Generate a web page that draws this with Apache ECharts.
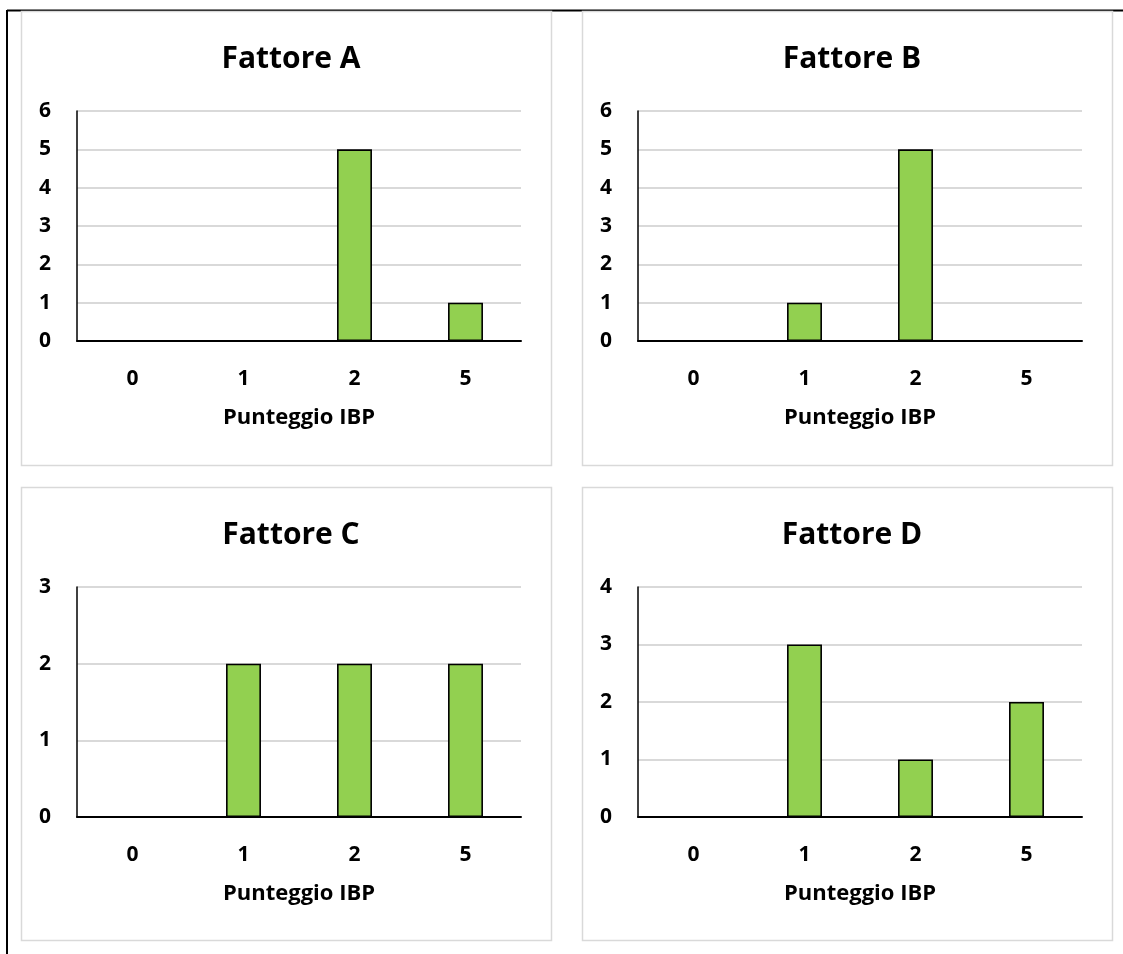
<!DOCTYPE html>
<html>
<head>
<meta charset="utf-8">
<script src="https://cdn.jsdelivr.net/npm/echarts@6/dist/echarts.min.js"></script>
<style>
  html, body { margin: 0; padding: 0; background: #ffffff; }
  #chart { width: 1123px; height: 954px; }
</style>
</head>
<body>
<div id="chart"></div>
<script>
// Categories (IBP score) and the count for each factor
const categories = ['0', '1', '2', '5'];
const fattoreA = [0, 0, 5, 1];
const fattoreB = [0, 1, 5, 0];
const fattoreC = [0, 2, 2, 2];
const fattoreD = [0, 3, 1, 2];

const titles = ['Fattore A', 'Fattore B', 'Fattore C', 'Fattore D'];
const yMax = [6, 6, 3, 4];
const xAxisName = 'Punteggio IBP';

const FONT = '"Open Sans", Lato, sans-serif';
const BAR_COLOR = '#92D050';

// Panel geometry
const panels = [
  { x: 21, y: 11, w: 530, h: 454 },
  { x: 582, y: 11, w: 530, h: 454 },
  { x: 21, y: 487, w: 530, h: 453 },
  { x: 582, y: 487, w: 530, h: 453 }
];
const grids = [
  { left: 77, top: 111, width: 444, height: 230 },
  { left: 638, top: 111, width: 444, height: 230 },
  { left: 77, top: 587, width: 444, height: 230 },
  { left: 638, top: 587, width: 444, height: 230 }
];
const seriesData = [fattoreA, fattoreB, fattoreC, fattoreD];

const chart = echarts.init(document.getElementById('chart'), null, { renderer: 'canvas' });

const graphics = [];
// Outer frame lines (top and left)
graphics.push({ type: 'line', shape: { x1: 7, y1: 10.5, x2: 1123, y2: 10.5 }, style: { stroke: '#000', lineWidth: 2 }, silent: true });
graphics.push({ type: 'line', shape: { x1: 7, y1: 10, x2: 7, y2: 954 }, style: { stroke: '#000', lineWidth: 2 }, silent: true });
// Light gray border around each chart panel
panels.forEach(p => {
  graphics.push({
    type: 'rect',
    shape: { x: p.x + 0.5, y: p.y + 0.5, width: p.w, height: p.h },
    style: { fill: 'transparent', stroke: '#d9d9d9', lineWidth: 1.5 },
    silent: true
  });
});

const option = {
  animation: false,
  backgroundColor: '#ffffff',
  title: titles.map((t, i) => ({
    text: t,
    left: panels[i].x + panels[i].w / 2,
    top: panels[i].y + 28,
    textAlign: 'center',
    textStyle: { fontFamily: FONT, fontWeight: 'bold', fontSize: 30, color: '#000' }
  })),
  graphic: graphics,
  grid: grids.map(g => Object.assign({ containLabel: false }, g)),
  xAxis: grids.map((g, i) => ({
    type: 'category',
    gridIndex: i,
    data: categories,
    name: xAxisName,
    nameLocation: 'middle',
    nameGap: 66,
    nameTextStyle: { fontFamily: FONT, fontWeight: 'bold', fontSize: 22, color: '#000' },
    axisLine: { show: true, lineStyle: { color: '#000', width: 2 } },
    axisTick: { show: false },
    axisLabel: { fontFamily: FONT, fontWeight: 'bold', fontSize: 21, color: '#000', margin: 28 },
    splitLine: { show: false },
    z: 3
  })),
  yAxis: grids.map((g, i) => ({
    type: 'value',
    gridIndex: i,
    min: 0,
    max: yMax[i],
    interval: 1,
    axisLine: { show: true, lineStyle: { color: '#000', width: 1.5 } },
    axisTick: { show: false },
    axisLabel: { fontFamily: FONT, fontWeight: 'bold', fontSize: 21, color: '#000', margin: 26 },
    splitLine: { show: true, lineStyle: { color: '#d9d9d9', width: 2 } }
  })),
  series: seriesData.map((d, i) => ({
    type: 'bar',
    xAxisIndex: i,
    yAxisIndex: i,
    barWidth: '31.5%',
    data: d.map(v => ({
      value: v,
      itemStyle: { color: BAR_COLOR, borderColor: '#000', borderWidth: v > 0 ? 1.6 : 0 }
    }))
  }))
};

chart.setOption(option);
</script>
</body>
</html>
